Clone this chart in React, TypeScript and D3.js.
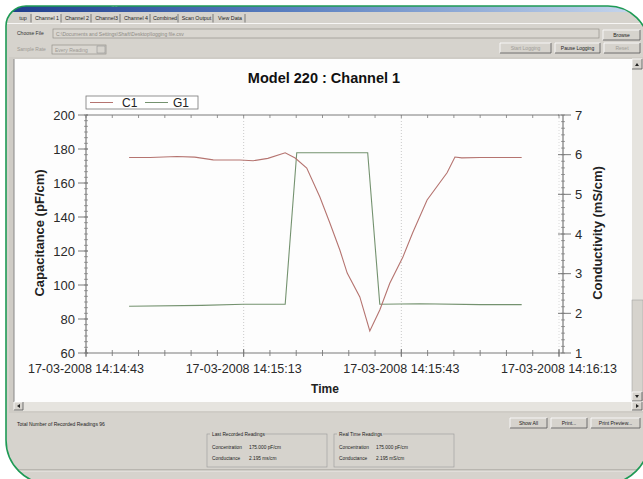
import React from "react";
import * as d3 from "d3";

// ---------- data ----------
const c1Times = ["14:14:51.2","14:14:55.2","14:15:00.3","14:15:03.7","14:15:07.2","14:15:12.3","14:15:14.8","14:15:17.6","14:15:20.9","14:15:22.8","14:15:25.0","14:15:27.5","14:15:29.4","14:15:31.3","14:15:32.7","14:15:35.1","14:15:37.0","14:15:38.9","14:15:40.8","14:15:43.3","14:15:45.2","14:15:47.9","14:15:51.7","14:15:53.2","14:15:54.5","14:15:58.0","14:16:05.9"];
const c1Values = [175,175,175.6,175.2,173.6,173.5,173.1,174.5,177.8,174.7,168.8,151.8,136.5,120.6,107,93,73,85.3,101,116.5,131,150,166,175.3,174.8,175,175];
const g1Times = ["14:14:51.2","14:15:05.0","14:15:13.0","14:15:20.9","14:15:23.1","14:15:36.6","14:15:38.9","14:15:46.5","14:15:58.0","14:16:05.9"];
const g1Values = [2.18,2.2,2.23,2.23,6.05,6.05,2.23,2.24,2.22,2.22];
const leftTicks = [60,80,100,120,140,160,180,200];
const rightTicks = [1,2,3,4,5,6,7];
const xTickLabels = ["17-03-2008 14:14:43","17-03-2008 14:15:13","17-03-2008 14:15:43","17-03-2008 14:16:13"];
const tabs = ["tup","Channel 1","Channel 2","Channel3","Channel 4","Combined","Scan Output","View Data"];

const FONT = "'Liberation Sans', Arial, sans-serif";

function T(s: string): Date {
  const [h, m, sec] = s.split(":").map(Number);
  const whole = Math.floor(sec);
  return new Date(2008, 2, 17, h, m, whole, Math.round((sec - whole) * 1000));
}
const parseFull = d3.timeParse("%d-%m-%Y %H:%M:%S");

function Btn({ x, y, w, h, label, disabled }: any) {
  return (
    <g>
      <rect x={x} y={y} width={w} height={h} fill="#d6d3cd" />
      <path d={`M${x},${y + h} L${x},${y} L${x + w},${y}`} stroke="#fff" fill="none" strokeWidth={0.8} />
      <path d={`M${x},${y + h} L${x + w},${y + h} L${x + w},${y}`} stroke="#555" fill="none" strokeWidth={0.8} />
      <text x={x + w / 2} y={y + h / 2 + 2} fontSize={5} textAnchor="middle" fill={disabled ? "#a09d97" : "#222"} fontFamily={FONT}>{label}</text>
    </g>
  );
}

export default function App() {
  const W = 643, H = 479;
  const L = 86, R = 559, TOP = 115, BOT = 353;
  const xs = xTickLabels.map((s) => parseFull(s) as Date);
  const x = d3.scaleTime().domain([xs[0], xs[xs.length - 1]]).range([L, R]);
  const yL = d3.scaleLinear().domain([60, 200]).range([BOT, TOP]);
  const yR = d3.scaleLinear().domain([1, 7]).range([BOT, TOP]);
  const minorX = d3.range(0, 91, 5).map((s) => d3.timeSecond.offset(xs[0], s));
  const minorL = d3.range(60, 200.01, 20 / 6);
  const minorR = d3.range(1, 7.001, 1 / 6);
  const c1 = c1Times.map((t, i) => ({ t: T(t), v: c1Values[i] }));
  const g1 = g1Times.map((t, i) => ({ t: T(t), v: g1Values[i] }));
  const lineL = d3.line<any>().x((d) => x(d.t)).y((d) => yL(d.v));
  const lineR = d3.line<any>().x((d) => x(d.t)).y((d) => yR(d.v));
  const RA = 563; // right axis x
  const axisCol = "#7a7a7a";
  const frame = "M6,26 A20,20 0 0 1 26,6 L608,6 A41,41 0 0 1 649,46 L649,440 A44,44 0 0 1 605,484 L50,484 A44,44 0 0 1 6,440 Z";

  const tabX = [14, 32, 62, 92, 121, 151, 179, 214, 246];

  return (
    <svg width={W} height={H} style={{ position: "absolute", left: 0, top: 0 }} fontFamily={FONT}>
      <defs>
        <clipPath id="frm"><path d={frame} /></clipPath>
        <linearGradient id="tb" x1="0" x2="1" y1="0" y2="0">
          <stop offset="0" stopColor="#1e3c8c" />
          <stop offset="0.45" stopColor="#5a7fc0" />
          <stop offset="1" stopColor="#c8d8ee" />
        </linearGradient>
      </defs>
      <rect x={0} y={0} width={W} height={H} fill="#ffffff" />
      <g clipPath="url(#frm)">
        <rect x={0} y={0} width={W} height={H} fill="#d6d3cd" />
        <rect x={0} y={0} width={W} height={12} fill="url(#tb)" />
        <text x={90} y={5.5} fontSize={6} fill="#e8ecf6" fontFamily={FONT}>Data Logger - 220</text>
        <line x1={0} x2={W} y1={23.5} y2={23.5} stroke="#fff" strokeWidth={0.8} />
        {tabs.map((t, i) => (
          <g key={t}>
            {i === 1 && <rect x={tabX[i]} y={12.5} width={tabX[i + 1] - tabX[i] - 1} height={11} fill="#dedbd5" />}
            <line x1={tabX[i + 1] - 1} x2={tabX[i + 1] - 1} y1={14} y2={22.5} stroke="#555" strokeWidth={0.7} />
            <text x={(tabX[i] + tabX[i + 1]) / 2} y={20} fontSize={5.3} textAnchor="middle" fill="#222">{t}</text>
          </g>
        ))}
        <text x={17} y={35} fontSize={5} fill="#333">Choose File</text>
        <rect x={53} y={29} width={546} height={9} fill="#d9d6d0" stroke="#8a877f" strokeWidth={0.6} />
        <text x={56} y={35.5} fontSize={5} fill="#8e8b85">C:\Documents and Settings\Shaft\Desktop\logging file.csv</text>
        <Btn x={603} y={30} w={37} h={10} label="Browse" />
        <text x={17} y={51} fontSize={5} fill="#9c9993">Sample Rate</text>
        <rect x={52} y={45} width={54} height={9} fill="#d9d6d0" stroke="#8a877f" strokeWidth={0.6} />
        <text x={55} y={51.5} fontSize={5} fill="#9c9993">Every Reading</text>
        <rect x={97} y={46} width={8} height={7} fill="#d6d3cd" stroke="#888" strokeWidth={0.5} />
        <Btn x={500} y={43} w={51} h={10} label="Start Logging" disabled />
        <Btn x={555} y={43} w={45} h={10} label="Pause Logging" />
        <Btn x={604} y={43} w={36} h={10} label="Reset" disabled />

        <rect x={9} y={57} width={634} height={356} fill="#cfccc6" />
        <rect x={14} y={59} width={618} height={343} fill="#fdfdfd" />
        <line x1={14} x2={14} y1={59} y2={402} stroke="#888" strokeWidth={1} />
        <rect x={632} y={59} width={11} height={343} fill="#e6e4df" />
        <rect x={632} y={300} width={11} height={100} fill="#d6d3cd" stroke="#999" strokeWidth={0.5} />
        <Btn x={632} y={59} w={10} h={10} label="" />
        <path d="M635,66 L637,63 L639,66 Z" fill="#222" />
        <Btn x={632} y={392} w={10} h={9} label="" />
        <path d="M635,395 L637,398 L639,395 Z" fill="#222" />
        <rect x={14} y={402} width={629} height={9} fill="#e6e4df" />
        <Btn x={14} y={402} w={9} h={8} label="" />
        <path d="M20,404 L17,406 L20,408 Z" fill="#222" />
        <Btn x={632} y={402} w={10} h={8} label="" />
        <path d="M636,404 L639,406 L636,408 Z" fill="#222" />

        <text x={324} y={83} fontSize={14.5} fontWeight="bold" textAnchor="middle" fill="#111">Model 220 : Channel 1</text>

        <rect x={86} y={96} width={112} height={13} fill="#fff" stroke="#777" strokeWidth={0.8} />
        <line x1={90} x2={113} y1={102.5} y2={102.5} stroke="#b57470" strokeWidth={1} />
        <text x={122} y={107} fontSize={12} fill="#222">C1</text>
        <line x1={145} x2={168} y1={102.5} y2={102.5} stroke="#74926f" strokeWidth={1} />
        <text x={173} y={107} fontSize={12} fill="#222">G1</text>

        {xs.slice(1, -1).map((d, i) => (
          <line key={i} x1={x(d)} x2={x(d)} y1={TOP} y2={BOT} stroke="#bdbdbd" strokeWidth={0.8} strokeDasharray="1,2" />
        ))}
        <line x1={R} x2={R} y1={TOP} y2={BOT} stroke="#cfcfcf" strokeWidth={0.8} strokeDasharray="1,2" />

        <line x1={L} x2={R} y1={TOP} y2={TOP} stroke={axisCol} strokeWidth={1} />
        {minorX.map((d, i) => (
          <line key={i} x1={x(d)} x2={x(d)} y1={TOP} y2={TOP + 3} stroke={axisCol} strokeWidth={0.8} />
        ))}
        <line x1={L} x2={R} y1={BOT} y2={BOT} stroke={axisCol} strokeWidth={1.2} />
        {minorX.map((d, i) => (
          <line key={i} x1={x(d)} x2={x(d)} y1={BOT - 3} y2={BOT + 3} stroke={axisCol} strokeWidth={0.9} />
        ))}
        {xs.map((d, i) => (
          <g key={i}>
            <line x1={x(d)} x2={x(d)} y1={BOT - 4} y2={BOT + 4} stroke={axisCol} strokeWidth={1} />
            <text x={x(d)} y={373} fontSize={12.5} textAnchor="middle" fill="#2a2a2a">{xTickLabels[i]}</text>
          </g>
        ))}
        <text x={325} y={393} fontSize={12} fontWeight="bold" textAnchor="middle" fill="#222">Time</text>

        <line x1={L} x2={L} y1={TOP} y2={BOT} stroke={axisCol} strokeWidth={1.2} />
        {minorL.map((v, i) => (
          <line key={i} x1={L - 2} x2={L + 2} y1={yL(v)} y2={yL(v)} stroke={axisCol} strokeWidth={0.7} />
        ))}
        {leftTicks.map((v) => (
          <g key={v}>
            <line x1={L - 8} x2={L + 2} y1={yL(v)} y2={yL(v)} stroke={axisCol} strokeWidth={1} />
            <text x={75} y={yL(v) + 4.5} fontSize={13} textAnchor="end" fill="#2a2a2a">{v}</text>
          </g>
        ))}
        <text transform={`translate(44,233) rotate(-90)`} fontSize={13} fontWeight="bold" textAnchor="middle" fill="#222">Capacitance (pF/cm)</text>

        <line x1={RA} x2={RA} y1={TOP} y2={BOT} stroke={axisCol} strokeWidth={1.2} />
        {minorR.map((v, i) => (
          <line key={i} x1={RA - 2} x2={RA + 2} y1={yR(v)} y2={yR(v)} stroke={axisCol} strokeWidth={0.7} />
        ))}
        {rightTicks.map((v) => (
          <g key={v}>
            <line x1={RA - 5} x2={RA + 8} y1={yR(v)} y2={yR(v)} stroke={axisCol} strokeWidth={1} />
            <text x={575} y={yR(v) + 4.5} fontSize={13} textAnchor="start" fill="#2a2a2a">{v}</text>
          </g>
        ))}
        <text transform={`translate(602,233) rotate(-90)`} fontSize={13} fontWeight="bold" textAnchor="middle" fill="#222">Conductivity (mS/cm)</text>

        <path d={lineR(g1) as string} fill="none" stroke="#74926f" strokeWidth={1.1} />
        <path d={lineL(c1) as string} fill="none" stroke="#b57470" strokeWidth={1.1} />

        <text x={17} y={426} fontSize={5} fill="#222">Total Number of Recorded Readings   96</text>
        <Btn x={510} y={418} w={37} h={10} label="Show All" />
        <Btn x={551} y={418} w={36} h={10} label="Print..." />
        <Btn x={591} y={418} w={49} h={10} label="Print Preview..." />
        {[{ x: 207, t: "Last Recorded Readings", u: "ms/cm" }, { x: 334, t: "Real Time Readings", u: "mS/cm" }].map((b, i) => (
          <g key={i}>
            <rect x={b.x} y={434} width={120} height={33} fill="none" stroke="#999" strokeWidth={0.6} />
            <rect x={b.x + 3} y={431} width={i === 0 ? 55 : 46} height={5} fill="#d6d3cd" />
            <text x={b.x + 5} y={436} fontSize={4.8} fill="#222">{b.t}</text>
            <text x={b.x + 5} y={449} fontSize={4.8} fill="#222">Concentration</text>
            <text x={b.x + 42} y={449} fontSize={4.8} fill="#222">175.000 pF/cm</text>
            <text x={b.x + 5} y={460} fontSize={4.8} fill="#222">Conductance</text>
            <text x={b.x + 42} y={460} fontSize={4.8} fill="#222">{`2.195 ${b.u}`}</text>
          </g>
        ))}
        <line x1={0} x2={W} y1={470} y2={470} stroke="#8d8a84" strokeWidth={0.8} />
        <line x1={0} x2={W} y1={471} y2={471} stroke="#f2f1ee" strokeWidth={0.8} />
      </g>
      <path d={frame} fill="none" stroke="#1e9a55" strokeWidth={1.6} />
    </svg>
  );
}
